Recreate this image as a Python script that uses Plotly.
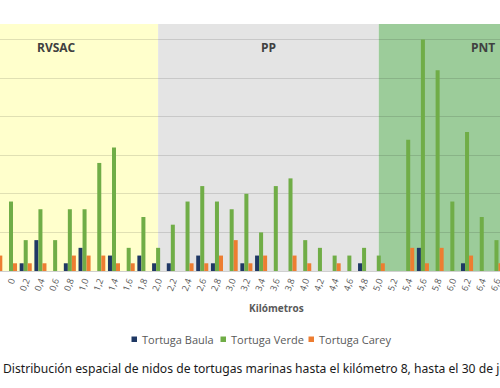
import plotly.graph_objects as go

categories = ["-0,2", "0", "0,2", "0,4", "0,6", "0,8", "1,0", "1,2", "1,4", "1,6", "1,8",
              "2,0", "2,2", "2,4", "2,6", "2,8", "3,0", "3,2", "3,4", "3,6", "3,8",
              "4,0", "4,2", "4,4", "4,6", "4,8", "5,0", "5,2", "5,4", "5,6", "5,8",
              "6,0", "6,2", "6,4", "6,6"]

baula = [0, 0, 1, 4, 0, 1, 3, 0, 2, 0, 2,
         1, 1, 0, 2, 1, 0, 1, 2, 0, 0,
         0, 0, 0, 0, 1, 0, 0, 0, 3, 0,
         0, 1, 0, 0]
verde = [0, 9, 4, 8, 4, 8, 8, 14, 16, 3, 7,
         3, 6, 9, 11, 9, 8, 10, 5, 11, 12,
         4, 3, 2, 2, 3, 2, 0, 17, 30, 26,
         9, 18, 7, 4]
carey = [2, 1, 1, 1, 0, 2, 2, 2, 1, 1, 0,
         0, 0, 1, 1, 2, 4, 1, 2, 0, 2,
         1, 0, 1, 0, 0, 1, 0, 3, 1, 3,
         0, 2, 0, 1]

series_names = ["Tortuga Baula", "Tortuga Verde", "Tortuga Carey"]
series_colors = ["#1F3864", "#70AD47", "#ED7D31"]

zones = ["RVSAC", "PP", "PNT"]
zone_bounds = ["2,0", "5,0"]
zone_colors = ["#FFFFCC", "#E4E4E4", "#9CCC9A"]

title_text = "Distribución espacial de nidos de tortugas marinas hasta el kilómetro 8, hasta el 30 de junio"

fig = go.Figure()
for name, vals, col in zip(series_names, [baula, verde, carey], series_colors):
    fig.add_trace(go.Bar(x=categories, y=vals, name=name, marker_color=col,
                         marker_line_width=0))

b1 = categories.index(zone_bounds[0])
b2 = categories.index(zone_bounds[1])
bands = [(-1, b1), (b1, b2), (b2, len(categories) + 1)]
for (x0, x1), col in zip(bands, zone_colors):
    fig.add_shape(type="rect", xref="x", yref="paper", x0=x0, x1=x1, y0=0, y1=1,
                  fillcolor=col, line_width=0, layer="below")

PH = 247.0  # plot height in px
def py(px):
    return (271 - px) / PH

# zone labels
for name, xc in zip(zones, [56, 268, 483]):
    fig.add_annotation(text="<b>%s</b>" % name, xref="paper", yref="paper",
                       x=xc / 500, y=py(47), xanchor="center", yanchor="middle",
                       showarrow=False,
                       font=dict(size=12, color="#404040", family="Open Sans"))

# axis title
fig.add_annotation(text="<b>Kilómetros</b>", xref="paper", yref="paper",
                   x=276 / 500, y=py(308), xanchor="center", yanchor="middle",
                   showarrow=False,
                   font=dict(size=10, color="#595959", family="Open Sans"))

# legend
leg_sq = [131.5, 220.5, 308.5]
for name, col, sx in zip(series_names, series_colors, leg_sq):
    fig.add_shape(type="rect", xref="paper", yref="paper",
                  x0=sx / 500, x1=(sx + 5.5) / 500, y0=py(336.5), y1=py(342),
                  fillcolor=col, line_width=0)
    fig.add_annotation(text=name, xref="paper", yref="paper",
                       x=(sx + 8) / 500, y=py(339), xanchor="left", yanchor="middle",
                       showarrow=False,
                       font=dict(size=11, color="#595959", family="Open Sans"))

# caption
fig.add_annotation(text=title_text, xref="paper", yref="paper",
                   x=1 / 500, y=py(368), xanchor="left", yanchor="middle",
                   showarrow=False,
                   font=dict(size=12.15, color="#1a1a1a", family="Noto Sans"))

fig.update_layout(
    width=500, height=388,
    margin=dict(l=0, r=0, t=24, b=117),
    plot_bgcolor="white", paper_bgcolor="white",
    barmode="group", bargap=0.18, bargroupgap=0,
    showlegend=False,
    font=dict(family="Open Sans", color="#595959"),
)
fig.update_xaxes(type="category", categoryorder="array", categoryarray=categories,
                 range=[0.252, 34.24], tickangle=-70,
                 tickfont=dict(size=9, color="#595959"),
                 showline=True, linecolor="#D0D0D0", linewidth=1,
                 showgrid=False, ticks="", automargin=False)
fig.update_yaxes(range=[0, 32], dtick=5, showgrid=True,
                 gridcolor="rgba(0,0,0,0.12)", gridwidth=1,
                 showticklabels=False, zeroline=False, automargin=False)

fig.write_html("out.html", config={"displayModeBar": False},
               post_script="document.body.style.margin='0';")
